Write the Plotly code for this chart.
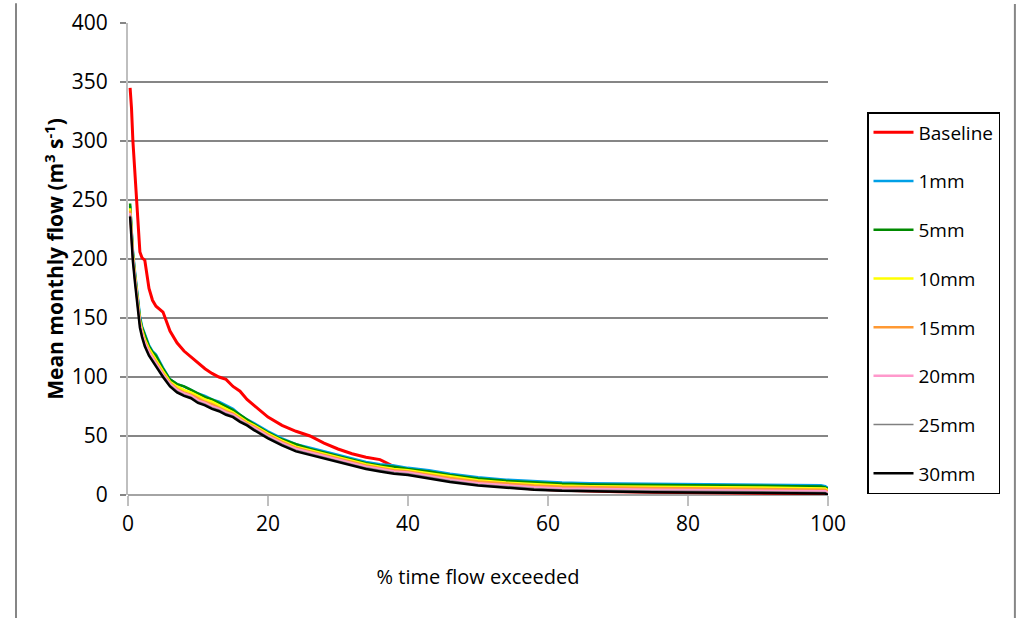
import plotly.graph_objects as go

# % time flow exceeded
pct = [0.3, 0.5, 0.7, 1.0, 1.4, 1.7, 2.0, 2.4, 3.0, 3.5, 4, 5, 6, 7, 8, 9, 10, 11, 12, 13,
       14, 15, 16, 17, 18, 20, 22, 24, 26, 28, 30, 32, 34, 36, 38, 40, 43, 46, 50, 54,
       58, 62, 66, 70, 75, 80, 85, 90, 95, 99, 99.6, 100]

baseline = [345, 328, 300, 270, 234, 206, 201, 199, 175, 165, 160, 155, 139, 129, 122, 117, 112, 107, 103, 100,
            98, 92, 88, 81, 76, 66, 59, 54, 50, 44, 39, 35, 32, 30, 24, 21, 17, 13, 9.5, 7,
            5, 4, 3.3, 2.8, 2.4, 2.1, 1.9, 1.7, 1.5, 1.3, 1.1, 0.3]
mm1 = [245, 222, 207, 189, 170, 152, 143, 136, 127, 122, 119, 108, 98, 94, 92, 89, 86, 84, 81, 79,
       76, 73, 68, 64, 61, 54, 48, 43, 40, 37, 34, 31, 28, 26, 25, 23, 21, 18, 15, 13,
       11.5, 10.5, 10, 9.8, 9.5, 9.3, 9, 8.8, 8.5, 8.2, 7.5, 6]
mm5 = [247, 220, 205, 187, 168, 150, 142, 135, 126, 121, 118, 107, 98, 94, 92, 89, 86, 83, 81, 78,
       75, 72, 68, 64, 60, 53, 47, 43, 39, 36, 33, 30, 27, 25, 24, 22, 20, 17, 14, 12,
       10.5, 9.5, 9, 8.7, 8.4, 8.2, 8, 7.8, 7.5, 7.3, 6.5, 5]
mm10 = [243, 219, 204, 186, 166, 148, 140, 132, 124, 119, 115, 105, 96, 92, 89, 87, 84, 81, 79, 76,
        73, 70, 66, 62, 59, 52, 46, 41, 38, 35, 32, 29, 26, 24, 22, 21, 18.5, 15.5, 12.5, 10.5,
        9, 8, 7.5, 7.2, 7, 6.8, 6.6, 6.4, 6.2, 6, 5.5, 4]
mm15 = [241, 218, 202, 184, 164, 146, 138, 130, 122, 117, 113, 103, 95, 90, 87, 85, 82, 79, 77, 74,
        71, 69, 65, 61, 58, 51, 45, 40, 37, 34, 31, 28, 25, 23, 21, 20, 17, 14.5, 11.5, 9.5,
        8, 7, 6.5, 6.2, 6, 5.8, 5.6, 5.4, 5.2, 5, 4.5, 3]
mm20 = [239, 217, 201, 183, 163, 145, 137, 129, 121, 116, 111, 102, 94, 89, 86, 84, 80, 78, 75, 73,
        70, 68, 64, 60, 57, 50, 44, 39, 36, 33, 30, 27, 24, 22, 20, 19, 16, 13, 10, 8,
        6.5, 5.5, 5, 4.7, 4.5, 4.3, 4.1, 4, 3.8, 3.6, 3.2, 2]
mm25 = [237, 215, 199, 181, 161, 143, 135, 127, 119, 114, 110, 101, 93, 88, 85, 83, 79, 77, 74, 72,
        69, 67, 63, 60, 56, 49, 43, 38, 35, 32, 29, 26, 23, 21, 19, 18, 15, 12, 9, 7,
        5.5, 4.5, 4, 3.7, 3.4, 3.2, 3, 2.9, 2.7, 2.5, 2.2, 1]
mm30 = [236, 214, 198, 180, 160, 142, 134, 126, 118, 113, 109, 100, 92, 87, 84, 82, 78, 76, 73, 71,
        68, 66, 62, 59, 55, 48, 42, 37, 34, 31, 28, 25, 22, 20, 18, 17, 14, 11, 8, 6,
        4.5, 3.5, 3, 2.7, 2.4, 2.2, 2, 1.8, 1.6, 1.4, 1.2, 0.2]

series_names = ["Baseline", "1mm", "5mm", "10mm", "15mm", "20mm", "25mm", "30mm"]
series_vals = [baseline, mm1, mm5, mm10, mm15, mm20, mm25, mm30]
colors = ["#FF0000", "#00A0E6", "#008A00", "#FFFF00", "#FF9933", "#FF99CC", "#808080", "#000000"]
widths = [3, 2.5, 2.5, 2.5, 2.5, 2.5, 1.5, 2.5]

x_ticks = [0, 20, 40, 60, 80, 100]
y_ticks = [0, 50, 100, 150, 200, 250, 300, 350, 400]

FONT = "Open Sans, sans-serif"

fig = go.Figure()
for name, vals, c, w in zip(series_names, series_vals, colors, widths):
    fig.add_trace(go.Scatter(x=pct, y=vals, mode="lines", name=name, legendgroup=name,
                             line=dict(color=c, width=w)))

fig.update_layout(
    width=1018, height=618,
    margin=dict(l=128, r=190, t=23, b=123, autoexpand=False),
    paper_bgcolor="white", plot_bgcolor="white",
    font=dict(family=FONT, size=21, color="black"),
    showlegend=True,
    legend=dict(xref="container", yref="container", x=867 / 1018, y=1 - 112 / 618,
                xanchor="left", yanchor="top", maxheight=450,
                bordercolor="black", borderwidth=1.5, bgcolor="white",
                font=dict(family=FONT, size=19, color="black"),
                tracegroupgap=21, itemwidth=40),
    xaxis=dict(range=[0, 100], tickvals=x_ticks, showgrid=False, zeroline=False,
               showline=False, ticks="outside", ticklen=10, tickcolor="#BFBFBF", tickwidth=1.5,
               tickfont=dict(family=FONT, size=21),
               title=dict(text="% time flow exceeded", font=dict(family=FONT, size=20), standoff=33)),
    yaxis=dict(range=[0, 400], tickvals=y_ticks, showgrid=True, gridcolor="#868686", gridwidth=1.5,
               zeroline=False, showline=True, linecolor="#BFBFBF", linewidth=2,
               ticks="outside", ticklen=6, tickcolor="#868686", tickwidth=1.5,
               ticklabelstandoff=8,
               tickfont=dict(family=FONT, size=21),
               title=dict(text="<b>Mean monthly flow (m<sup>3</sup> s<sup>-1</sup>)</b>",
                          font=dict(family=FONT, size=21), standoff=2)),
    shapes=[
        dict(type="line", xref="paper", yref="paper", x0=0, x1=1, y0=0, y1=0,
             line=dict(color="#868686", width=1.5), layer="below"),
        dict(type="line", xref="paper", yref="paper", x0=-0.16, x1=-0.16, y0=1.042, y1=-0.27,
             line=dict(color="#868686", width=2)),
        dict(type="line", xref="paper", yref="paper", x0=1.267, x1=1.267, y0=1.040, y1=-0.27,
             line=dict(color="#868686", width=2)),
    ],
)

fig.write_html("out.html")
